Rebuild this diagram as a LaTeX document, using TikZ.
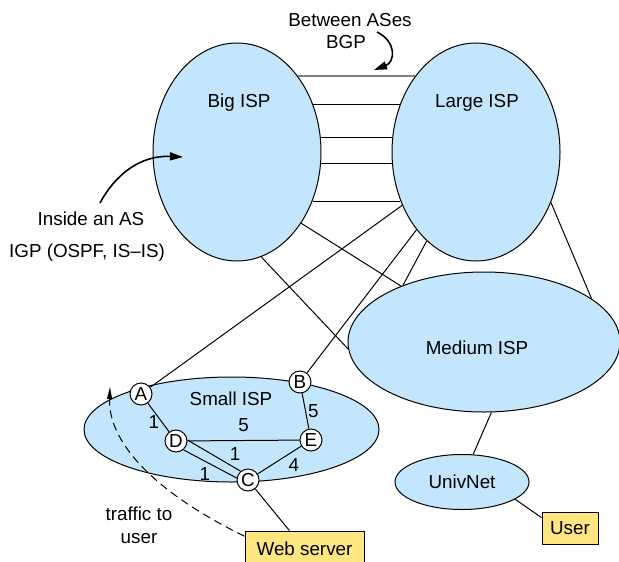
\documentclass[tikz,border=0pt]{standalone}
\usepackage{fontspec}
\setmainfont{Liberation Sans}
\usetikzlibrary{shapes.geometric,arrows.meta}
\definecolor{ispblue}{RGB}{196,230,252}
\definecolor{hostyellow}{RGB}{255,230,128}
\tikzset{
	isp/.style={ellipse, draw, fill=ispblue, inner sep=0pt},
	router/.style={circle, draw, fill=white, inner sep=0pt, minimum size=11pt},
	host/.style={rectangle, draw, fill=hostyellow, inner sep=0pt},
	wt/.style={inner sep=1pt},
	hint/.style={line width=0.8pt, -{Triangle[length=6.5pt,width=4pt]}}
}

\begin{document}
\begin{tikzpicture}[x=0.5pt, y=-0.5pt, line width=0.5pt, font=\fontsize{9.4pt}{11.5pt}\selectfont]
	\useasboundingbox (0,0) rectangle (619,561);
	\node[isp, minimum width=84pt, minimum height=109pt] (big) at (237,152) {};
	\node[isp, minimum width=84pt, minimum height=109pt] (large) at (476,152) {};
	\node[isp, minimum width=136pt, minimum height=70pt] (medium) at (484,342) {};
	\node[isp, minimum width=147.5pt, minimum height=52.5pt] (small) at (231.5,429.5) {};
	\node[isp, minimum width=67pt, minimum height=27.5pt] (univ) at (462,482) {UnivNet};
	\node (bigtxt) at (239,103) {Big ISP};
	\node (largetxt) at (477,103) {Large ISP};
	\node (mediumtxt) at (477,348) {Medium ISP};
	\node (smalltxt) at (231,399) {Small ISP};
	\node (between) at (350,20) {Between ASes};
	\node (bgp) at (346,42) {BGP};
	\node (inside) at (91,219) {Inside an AS};
	\node (igp) at (87,253) {IGP (OSPF, IS--IS)};
	\node[align=center] (traffic) at (139,525) {traffic to\\user};
	\node[router] (A) at (141,394) {A};
	\node[router] (B) at (300,382) {B};
	\node[router] (C) at (248,480) {C};
	\node[router] (D) at (176,441) {D};
	\node[router] (E) at (311,440) {E};
	\node[host, minimum width=59.5pt, minimum height=18pt] (web) at (304.5,549) {Web server};
	\node[host, minimum width=28pt, minimum height=16pt] (user) at (570,528) {User};
	\coordinate (bgpfrom) at (377,32);
	\coordinate (bgpto) at (374,70);
	\coordinate (asfrom) at (100,203);
	\coordinate (asto) at (183,157);
	\coordinate (trafftip) at (110,387);

	\draw[gray, line width=1pt] (big.51) -- (large.129);
	\path[draw]
	(big.32) edge (large.148)
	(big.10) edge (large.170)
	(big.-8) edge (large.188)
	(big.-33) edge (large.213)
	(big.-77) edge (medium.183)
	(big.-48) edge (medium.146)
	(large.-119) edge (medium.145)
	(large.-34) edge (medium.22)
	(medium.-84) edge (univ.68)
	(univ.-18) edge (user.160)
	(A) edge (large)
	(B) edge (large)
	(C) edge (web);
	\path[draw]
	(A) edge node[wt, pos=.65, left] {1} (D)
	(D) edge node[wt, above=3pt] {5} (E)
	(B) edge node[wt, right] {5} (E)
	(D.5) edge node[wt, pos=.75, above right] {1} (C.130)
	(D.-50) edge node[wt, pos=.55, below left] {1} (C.170)
	(C) edge node[wt, pos=.65, below right] {4} (E);

	\draw[hint] (bgpfrom) .. controls (397,42) and (395,62) .. (bgpto);
	\draw[hint] (asfrom) .. controls (115,175) and (140,155) .. (asto);
	\draw[dashed, dash pattern=on 4pt off 2.5pt, -{Triangle[length=6pt,width=2.5pt]}] (web.168) .. controls (150,490) and (108,440) .. (trafftip);
\end{tikzpicture}
\end{document}
